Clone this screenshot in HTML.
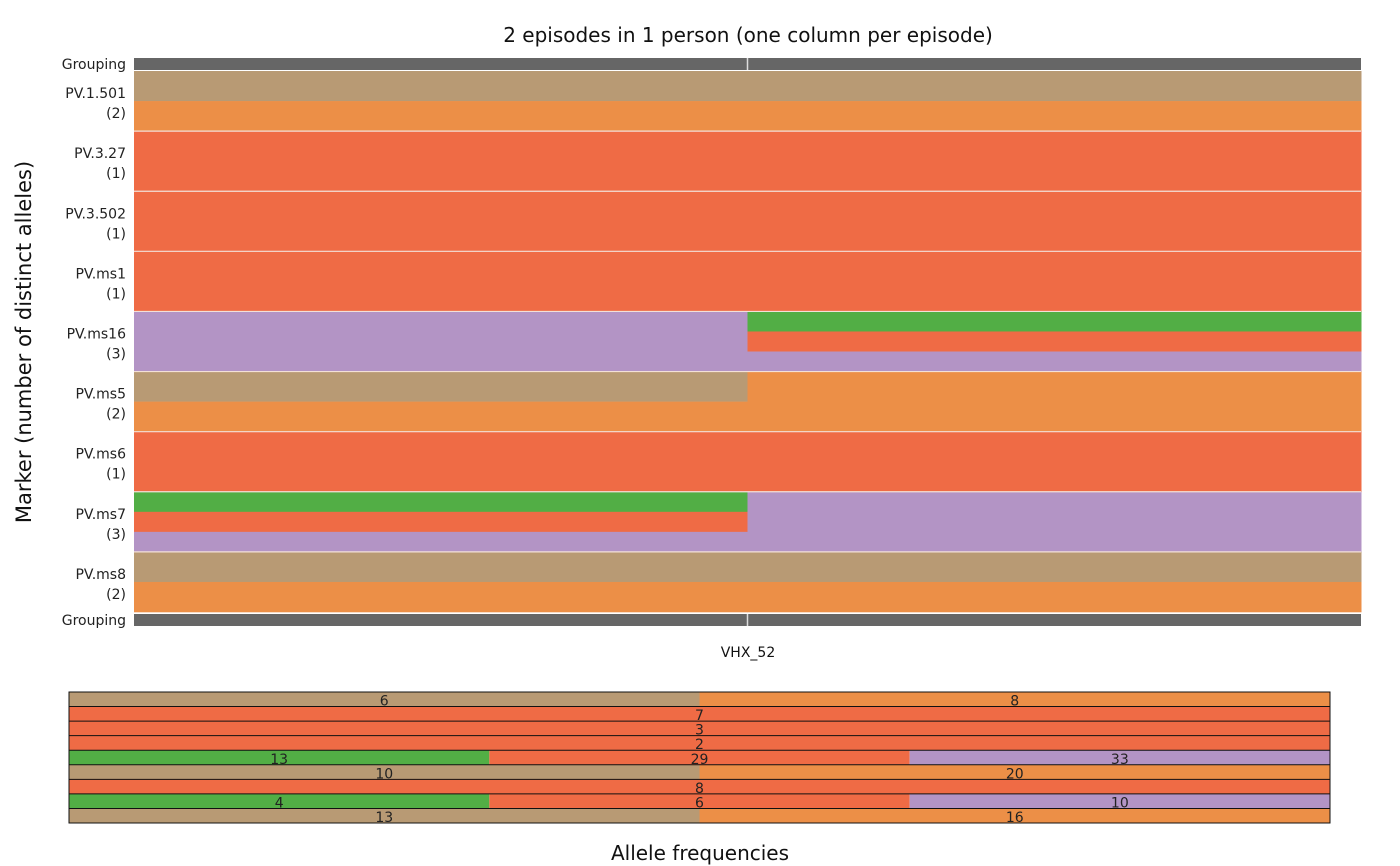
<!DOCTYPE html>
<html><head><meta charset="utf-8"><style>
body{margin:0;background:#fff;}
svg{display:block;font-family:"DejaVu Sans","Liberation Sans",sans-serif;}
</style></head><body>
<svg id="chart" width="1400" height="866" viewBox="0 0 1400 866" xmlns="http://www.w3.org/2000/svg">
<text x="748" y="42" font-size="20" text-anchor="middle" fill="#111">2 episodes in 1 person (one column per episode)</text>
<text transform="translate(31,342) rotate(-90)" font-size="21" text-anchor="middle" fill="#111">Marker (number of distinct alleles)</text>
<text x="748" y="657" font-size="14" text-anchor="middle" fill="#111">VHX_52</text>
<text x="700" y="860" font-size="20" text-anchor="middle" fill="#111">Allele frequencies</text>
<g id="topg"></g><g id="bottomg"></g>
</svg>
<script>
const markers=["PV.1.501","PV.3.27","PV.3.502","PV.ms1","PV.ms16","PV.ms5","PV.ms6","PV.ms7","PV.ms8"];
const alleleColors=[["#b89a74","#ec8f47"],["#ef6b45"],["#ef6b45"],["#ef6b45"],["#52ae45","#ef6b45","#b394c5"],["#b89a74","#ec8f47"],["#ef6b45"],["#52ae45","#ef6b45","#b394c5"],["#b89a74","#ec8f47"]];
const alleleFreqs=[[6,8],[7],[3],[2],[13,29,33],[10,20],[8],[4,6,10],[13,16]];
const episodes=["ep1","ep2"];
const episode1=[[0,1],[0],[0],[0],[2],[0,1],[0],[0,1,2],[0,1]];
const episode2=[[0,1],[0],[0],[0],[0,1,2],[1],[0],[2],[0,1]];
const NS="http://www.w3.org/2000/svg";
function mk(parent,tag,attrs){const e=document.createElementNS(NS,tag);for(const k in attrs)e.setAttribute(k,attrs[k]);parent.appendChild(e);return e;}
const topG=document.getElementById('topg'),botG=document.getElementById('bottomg');
const X0=134,X1=1361,Y0=71,Y1=612;
const rowH=(Y1-Y0)/markers.length;
const colW=(X1-X0)/episodes.length;
const xCol=i=>X0+i*colW, yRow=i=>Y0+i*rowH;
[[58,70,"grouping-top"],[614,626,"grouping-bottom"]].forEach(g=>{
 const r=mk(topG,'rect',{x:X0,y:g[0],width:X1-X0,height:g[1]-g[0],fill:'#666'});
 
 
 mk(topG,'line',{x1:xCol(1),x2:xCol(1),y1:g[0],y2:g[1],stroke:'#ddd','stroke-width':1.5});
 const t=mk(topG,'text',{x:126,y:(g[0]+g[1])/2+5,'font-size':14,'text-anchor':'end',fill:'#222'});
 t.textContent='Grouping';
 
 
});
const eps=[episode1,episode2];
markers.forEach((m,i)=>{
 eps.forEach((ep,j)=>{
  const pres=ep[i];const h=rowH/pres.length;
  pres.forEach((a,k)=>{
   const r=mk(topG,'rect',{x:xCol(j),y:yRow(i)+k*h,width:colW+0.5,height:h+0.3,fill:alleleColors[i][a]});
   
   
  });
 });
 if(i>0)mk(topG,'line',{x1:X0,x2:X1,y1:yRow(i),y2:yRow(i),stroke:'#f3e0d8','stroke-width':1.2});
 const t=mk(topG,'text',{x:126,y:yRow(i)+rowH/2-3,'font-size':14,'text-anchor':'end',fill:'#222'});
 
 
 mk(t,'tspan',{x:126}).textContent=m;
 mk(t,'tspan',{x:126,dy:20}).textContent='('+alleleColors[i].length+')';
});
const BX0=69,BX1=1330,BY0=692,BY1=823;
const bh=(BY1-BY0)/markers.length;
alleleFreqs.forEach((fs,i)=>{
 const w=(BX1-BX0)/fs.length;
 fs.forEach((f,k)=>{
  const r=mk(botG,'rect',{x:BX0+k*w,y:BY0+i*bh,width:w,height:bh,fill:alleleColors[i][k]});
  
  
  const t=mk(botG,'text',{x:BX0+k*w+w/2,y:BY0+i*bh+bh-1,'font-size':14,'text-anchor':'middle',fill:'#222'});
  t.textContent=f;
  
  
 });
 mk(botG,'line',{x1:BX0,x2:BX1,y1:BY0+i*bh,y2:BY0+i*bh,stroke:'#111','stroke-width':1});
});
mk(botG,'rect',{x:BX0,y:BY0,width:BX1-BX0,height:BY1-BY0,fill:'none',stroke:'#111','stroke-width':1});
</script>
</body></html>
